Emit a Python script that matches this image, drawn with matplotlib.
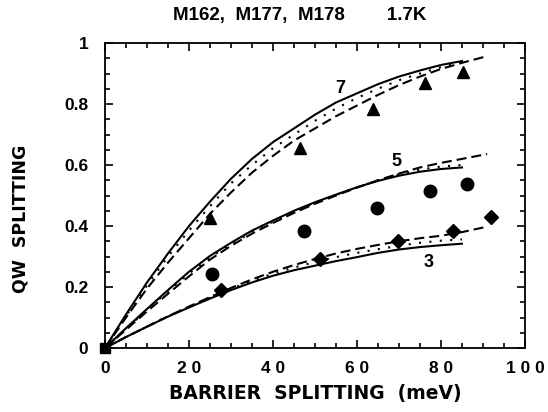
import matplotlib
matplotlib.use("Agg")
from matplotlib import pyplot as plt
from matplotlib.ticker import MultipleLocator

plt.rcParams['font.family'] = ['Liberation Sans', 'DejaVu Sans']
plt.rcParams['font.weight'] = 'bold'

# barrier splitting grid for the model curves (meV)
x_fit = [0, 5, 10, 15, 20, 25, 30, 35, 40, 45, 50, 55, 60, 65, 70, 75, 80, 85]
x_long = x_fit + [91]

# curve family "7"
solid_7 = [0, 0.11, 0.215, 0.31, 0.40, 0.48, 0.555, 0.62, 0.675, 0.72, 0.765, 0.805, 0.835, 0.865, 0.89, 0.91, 0.928, 0.941]
dotted_7 = [0, 0.105, 0.205, 0.30, 0.385, 0.465, 0.54, 0.60, 0.655, 0.70, 0.745, 0.785, 0.82, 0.85, 0.878, 0.90, 0.921, 0.938]
dashed_7 = [0, 0.10, 0.195, 0.28, 0.36, 0.44, 0.51, 0.575, 0.63, 0.68, 0.72, 0.76, 0.795, 0.83, 0.862, 0.89, 0.915, 0.935, 0.957]

# curve family "5"
solid_5 = [0, 0.065, 0.128, 0.19, 0.25, 0.302, 0.345, 0.385, 0.418, 0.45, 0.478, 0.503, 0.527, 0.548, 0.565, 0.578, 0.587, 0.592]
dotted_5 = [0, 0.063, 0.125, 0.186, 0.244, 0.297, 0.34, 0.38, 0.414, 0.447, 0.476, 0.502, 0.527, 0.55, 0.57, 0.585, 0.595, 0.60]
dashed_5 = [0, 0.06, 0.12, 0.178, 0.235, 0.29, 0.335, 0.375, 0.41, 0.443, 0.473, 0.50, 0.526, 0.55, 0.572, 0.592, 0.607, 0.62, 0.636]

# curve family "3"
solid_3 = [0, 0.036, 0.07, 0.103, 0.133, 0.162, 0.19, 0.215, 0.237, 0.255, 0.27, 0.285, 0.298, 0.312, 0.323, 0.331, 0.337, 0.342]
dotted_3 = [0, 0.036, 0.07, 0.104, 0.135, 0.165, 0.194, 0.22, 0.244, 0.264, 0.282, 0.298, 0.312, 0.324, 0.335, 0.345, 0.352, 0.356]
dashed_3 = [0, 0.036, 0.07, 0.104, 0.136, 0.167, 0.197, 0.225, 0.25, 0.272, 0.292, 0.31, 0.325, 0.338, 0.35, 0.36, 0.368, 0.38, 0.398]

# measured points
tri_x = [25.0, 46.4, 63.7, 76.2, 85.3]
tri_y = [0.425, 0.655, 0.783, 0.868, 0.906]
circ_x = [25.4, 47.4, 64.7, 77.4, 86.3]
circ_y = [0.243, 0.385, 0.458, 0.515, 0.538]
diam_x = [27.6, 51.3, 69.7, 82.8, 91.8]
diam_y = [0.190, 0.292, 0.351, 0.384, 0.428]

fig = plt.figure(figsize=(5.48, 4.12), dpi=100)
ax = fig.add_axes([0.1916, 0.1553, 0.7664, 0.7403])

dash = (0, (4.8, 2.4))
dots = (0, (1, 4))
for s, d, dd in [(solid_7, dotted_7, dashed_7), (solid_5, dotted_5, dashed_5), (solid_3, dotted_3, dashed_3)]:
    ax.plot(x_fit, s, color='black', lw=1.5)
    ax.plot(x_fit, d, color='black', lw=1.5, linestyle=dots)
    ax.plot(x_long, dd, color='black', lw=1.5, linestyle=dash)

ax.plot(tri_x, tri_y, 'k^', ms=9, clip_on=False)
ax.plot(circ_x, circ_y, 'ko', ms=9, clip_on=False)
ax.plot(diam_x, diam_y, 'kD', ms=7, clip_on=False)
ax.plot([0], [0], 'ks', ms=7, clip_on=False, zorder=5)

ax.text(56, 0.852, '7', fontsize=13, ha='center', va='center')
ax.text(69.5, 0.613, '5', fontsize=13, ha='center', va='center')
ax.text(77, 0.282, '3', fontsize=13, ha='center', va='center')

ax.set_xlim(0, 100)
ax.set_ylim(0, 1)
ax.xaxis.set_minor_locator(MultipleLocator(5))
ax.yaxis.set_minor_locator(MultipleLocator(0.05))
ax.set_xticks([0, 20, 40, 60, 80, 100])
ax.set_xticklabels(['0', '2 0', '4 0', '6 0', '8 0', '1 0 0'])
ax.set_yticks([0, 0.2, 0.4, 0.6, 0.8, 1])
ax.set_yticklabels(['0', '0.2', '0.4', '0.6', '0.8', '1'])
ax.tick_params(which='both', direction='in', top=True, right=True, width=1.2)
ax.tick_params(axis='x', labelsize=12.5, pad=9)
ax.tick_params(axis='y', labelsize=12.5, pad=12)
ax.tick_params(which='major', length=6)
ax.tick_params(which='minor', length=3.5)
for sp in ax.spines.values():
    sp.set_linewidth(1.3)

fig.text(0.576, 0.045, 'BARRIER  SPLITTING  (meV)', fontsize=13.5,
         family='DejaVu Sans', fontweight='bold', ha='center', va='center')
fig.text(0.038, 0.468, 'QW  SPLITTING', fontsize=12.5, rotation=90,
         family='DejaVu Sans', fontweight='bold', ha='center', va='center')
fig.text(0.547, 0.962, 'M162,  M177,  M178        1.7K', fontsize=13.5,
         fontweight='bold', ha='center', va='center')

fig.savefig('out.png', dpi=100)
